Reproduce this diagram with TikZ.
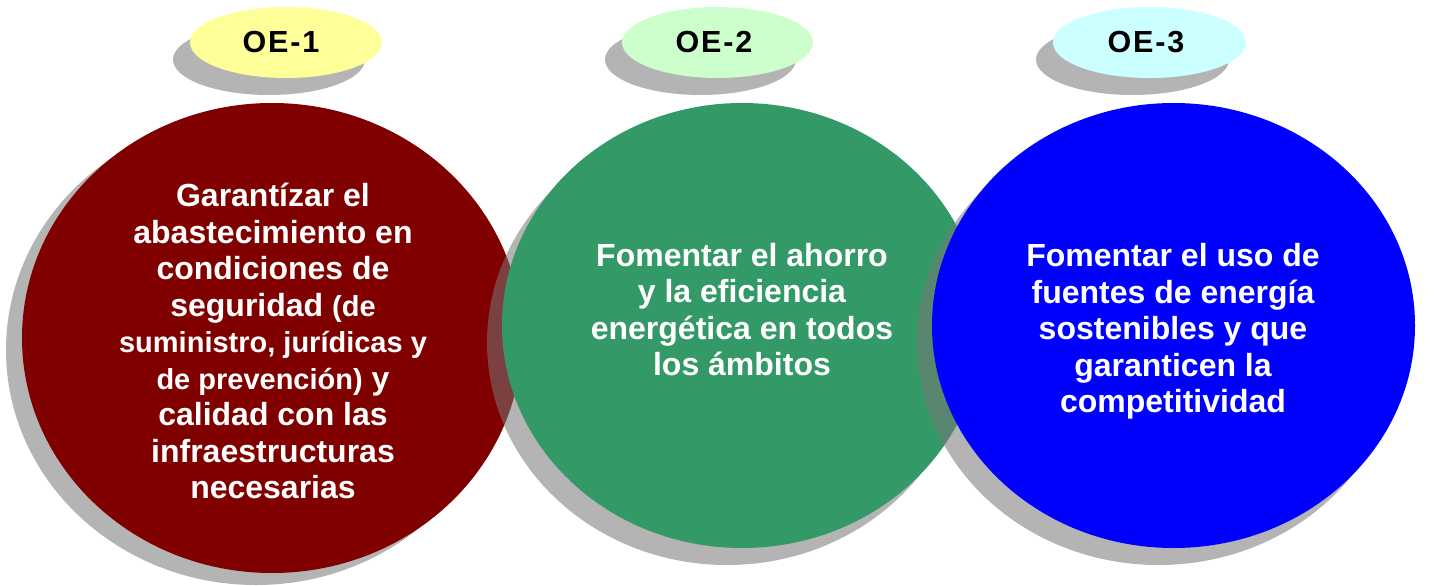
\documentclass[tikz,border=0pt]{standalone}
\usepackage{fontspec}
\setmainfont{Liberation Sans}
\newfontfamily\oefont[LetterSpace=6]{Liberation Sans}
\usetikzlibrary{shapes.geometric}
\definecolor{maroonC}{HTML}{800000}
\definecolor{greenC}{HTML}{339966}
\definecolor{blueC}{HTML}{0000FF}
\definecolor{yelL}{HTML}{FFFF99}
\definecolor{grnL}{HTML}{CCFFCC}
\definecolor{cyaL}{HTML}{CCFFFF}
\definecolor{shadowC}{HTML}{777777}
\newcommand\parenfont{\fontsize{29}{36.5}\selectfont}
\begin{document}
\begin{tikzpicture}[x=1pt,y=-1pt,
  blob/.style={ellipse, inner sep=0pt, draw=none},
  shadowblob/.style={blob, fill=shadowC, fill opacity=0.55},
  bigtext/.style={text=white, align=center, inner sep=0pt,
    font=\fontsize{32}{36.5}\selectfont\bfseries},
  oetext/.style={text=black, inner sep=0pt,
    font=\oefont\fontsize{30.5}{36}\selectfont\bfseries}]
\useasboundingbox (0,0) rectangle (1445,586);

% big circles with shadows
\node[shadowblob, minimum width=500pt, minimum height=470pt] (s1) at (256,350) {};
\node[blob, fill=maroonC, minimum width=500pt, minimum height=470pt] (c1) at (272,338) {};
\node[shadowblob, minimum width=480pt, minimum height=445pt] (s2) at (727,342.5) {};
\node[blob, fill=greenC, minimum width=480pt, minimum height=445pt] (c2) at (742,325.5) {};
\node[shadowblob, minimum width=483pt, minimum height=445pt] (s3) at (1158.5,342.5) {};
\node[blob, fill=blueC, minimum width=483pt, minimum height=445pt] (c3) at (1173.5,325.5) {};

% label ellipses
\node[shadowblob, minimum width=192pt, minimum height=71pt] (ls1) at (269,59.5) {};
\node[blob, fill=yelL, minimum width=192pt, minimum height=71pt] (l1) at (286,42.5) {};
\node[shadowblob, minimum width=191pt, minimum height=71pt] (ls2) at (700.5,59.5) {};
\node[blob, fill=grnL, minimum width=191pt, minimum height=71pt] (l2) at (717.5,42.5) {};
\node[shadowblob, minimum width=193pt, minimum height=71pt] (ls3) at (1132.5,59.5) {};
\node[blob, fill=cyaL, minimum width=193pt, minimum height=71pt] (l3) at (1149.5,42.5) {};

\node[oetext] (t1) at (281,42.5) {OE-1};
\node[oetext] (t2) at (714,42.5) {OE-2};
\node[oetext] (t3) at (1146,42.5) {OE-3};

% texts
\node[bigtext] (x1) at (273,341) {Garantízar el\\abastecimiento en\\condiciones de\\seguridad {\parenfont(de}\\{\parenfont suministro, jurídicas y}\\{\parenfont de prevención)} y\\calidad con las\\infraestructuras\\necesarias};
\node[bigtext] (x2) at (742,309.7) {Fomentar el ahorro\\y la eficiencia\\energética en todos\\los ámbitos};
\node[bigtext] (x3) at (1173,331.4) {Fomentar el uso de\\fuentes de energía\\sostenibles y que\\garanticen la\\competitividad};
\end{tikzpicture}
\end{document}
